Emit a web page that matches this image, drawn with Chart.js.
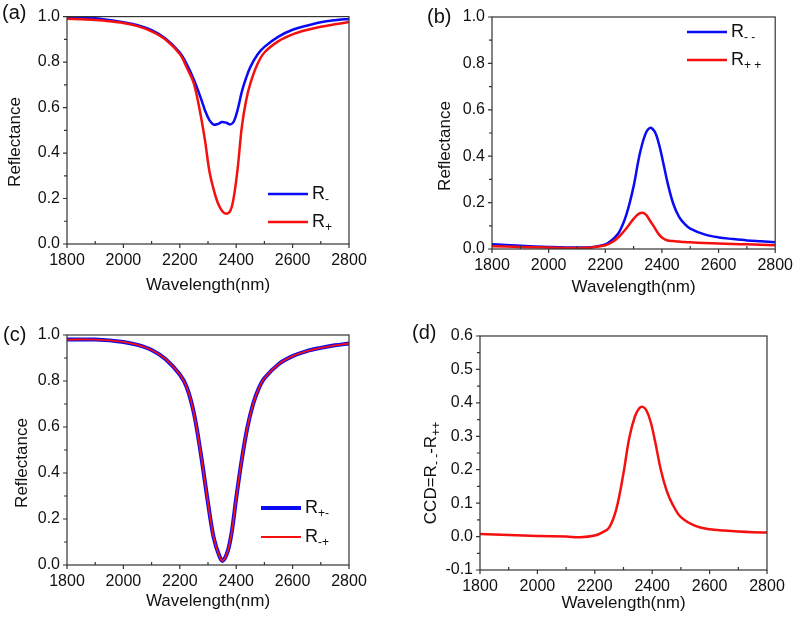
<!DOCTYPE html>
<html lang="en">
<head>
<meta charset="UTF-8">
<title>Reflectance spectra</title>
<script src="https://cdn.jsdelivr.net/npm/chart.js"></script>
<style>
    body { margin: 0; background: #fff; }
    #wrap { position: relative; width: 800px; height: 617px; }
    canvas { position: absolute; }
    #pa { left: 0; top: 0; }
    #pb { left: 400px; top: 0; }
    #pc { left: 0; top: 300px; }
    #pd { left: 400px; top: 300px; }
</style>
</head>
<body>
<div id="wrap">
    <canvas id="pa" width="400" height="300"></canvas>
    <canvas id="pb" width="400" height="300"></canvas>
    <canvas id="pc" width="400" height="317"></canvas>
    <canvas id="pd" width="400" height="317"></canvas>
</div>
<script>
// (a) R- and R+
const wavelengthA = [1800, 1850, 1900, 1950, 2000, 2050, 2100, 2150, 2200, 2225, 2250, 2275, 2290, 2305, 2320, 2335, 2350, 2365, 2380, 2392, 2405, 2420, 2435, 2450, 2475, 2500, 2550, 2600, 2650, 2700, 2750, 2800];
const rMinusA = [0.996, 0.995, 0.993, 0.985, 0.975, 0.962, 0.940, 0.903, 0.842, 0.790, 0.722, 0.640, 0.585, 0.545, 0.525, 0.528, 0.536, 0.533, 0.526, 0.540, 0.590, 0.670, 0.730, 0.778, 0.832, 0.867, 0.912, 0.942, 0.960, 0.975, 0.984, 0.990];
const rPlusA = [0.990, 0.988, 0.985, 0.980, 0.972, 0.958, 0.935, 0.898, 0.835, 0.775, 0.705, 0.560, 0.450, 0.320, 0.240, 0.180, 0.145, 0.133, 0.148, 0.210, 0.330, 0.515, 0.630, 0.705, 0.790, 0.842, 0.892, 0.922, 0.941, 0.955, 0.966, 0.976];

// (b) R-- and R++
const wavelengthB = [1800, 1900, 2000, 2100, 2150, 2200, 2225, 2250, 2275, 2300, 2320, 2340, 2358, 2375, 2390, 2405, 2420, 2440, 2460, 2480, 2500, 2550, 2600, 2650, 2700, 2750, 2800];
const rMinusMinusB = [0.020, 0.014, 0.009, 0.006, 0.008, 0.020, 0.040, 0.075, 0.150, 0.270, 0.400, 0.490, 0.522, 0.505, 0.450, 0.370, 0.285, 0.195, 0.140, 0.108, 0.088, 0.063, 0.050, 0.043, 0.037, 0.033, 0.029];
const rPlusPlusB = [0.012, 0.009, 0.006, 0.004, 0.006, 0.016, 0.030, 0.055, 0.090, 0.130, 0.153, 0.152, 0.122, 0.090, 0.062, 0.045, 0.037, 0.034, 0.032, 0.030, 0.029, 0.026, 0.024, 0.022, 0.020, 0.018, 0.016];

// (c) R+- and R-+
const wavelengthC = [1800, 1900, 2000, 2050, 2100, 2150, 2200, 2225, 2250, 2275, 2300, 2320, 2340, 2352, 2370, 2385, 2400, 2420, 2440, 2460, 2480, 2500, 2550, 2600, 2650, 2700, 2750, 2800];
const rPlusMinusC = [0.980, 0.980, 0.970, 0.957, 0.935, 0.895, 0.828, 0.772, 0.660, 0.480, 0.270, 0.120, 0.040, 0.018, 0.060, 0.150, 0.290, 0.460, 0.600, 0.700, 0.768, 0.812, 0.873, 0.908, 0.930, 0.944, 0.955, 0.963];
const rMinusPlusC = [0.980, 0.980, 0.970, 0.957, 0.935, 0.895, 0.828, 0.772, 0.660, 0.480, 0.270, 0.120, 0.040, 0.018, 0.060, 0.150, 0.290, 0.460, 0.600, 0.700, 0.768, 0.812, 0.873, 0.908, 0.930, 0.944, 0.955, 0.963];

// (d) CCD = R-- - R++
const wavelengthD = [1800, 1900, 2000, 2100, 2150, 2200, 2225, 2250, 2275, 2300, 2320, 2340, 2355, 2367, 2380, 2395, 2410, 2430, 2450, 2470, 2500, 2550, 2600, 2650, 2700, 2750, 2800];
const ccdD = [0.008, 0.005, 0.002, 0.000, -0.002, 0.003, 0.012, 0.027, 0.082, 0.190, 0.295, 0.360, 0.384, 0.388, 0.377, 0.342, 0.285, 0.200, 0.138, 0.098, 0.058, 0.032, 0.022, 0.018, 0.015, 0.013, 0.012];

const xTicks = [1800, 2000, 2200, 2400, 2600, 2800];
const yTicksR = [0, 0.2, 0.4, 0.6, 0.8, 1.0];
const yTicksCcd = [-0.1, 0, 0.1, 0.2, 0.3, 0.4, 0.5, 0.6];

const BLUE = '#0a0af5';
const RED = '#f51010';
const INK = '#111';
const FONT = "'Liberation Sans', Arial, sans-serif";

Chart.defaults.font.family = FONT;

function points(xs, ys) {
    return xs.map((x, i) => ({ x: x, y: ys[i] }));
}

// text with subscripts, parts = [[text, isSub], ...]
function richWidth(ctx, parts, size) {
    let w = 0;
    parts.forEach(p => {
        ctx.font = (p[1] ? Math.round(size * 0.68) : size) + 'px ' + FONT;
        w += ctx.measureText(p[0]).width;
    });
    return w;
}

function drawRich(ctx, parts, x, y, size) {
    parts.forEach(p => {
        ctx.font = (p[1] ? Math.round(size * 0.68) : size) + 'px ' + FONT;
        ctx.fillText(p[0], x, p[1] ? y + size * 0.32 : y);
        x += ctx.measureText(p[0]).width;
    });
}

const framePlugin = {
    id: 'frame',
    afterDatasetsDraw(chart, args, opts) {
        const { ctx, chartArea: a, scales: { x, y } } = chart;
        ctx.save();
        ctx.strokeStyle = '#333';
        ctx.lineWidth = 1.2;
        ctx.strokeRect(a.left, a.top, a.right - a.left, a.bottom - a.top);

        ctx.beginPath();
        for (let v = 1800; v <= 2800; v += 100) {
            const px = x.getPixelForValue(v);
            ctx.moveTo(px, a.bottom);
            ctx.lineTo(px, v % 200 === 0 ? a.bottom + 4 : a.bottom - 3);
        }
        const n = Math.round((y.max - y.min) / opts.yMinor);
        for (let i = 0; i <= n; i++) {
            const py = y.getPixelForValue(y.min + i * opts.yMinor);
            ctx.moveTo(a.left, py);
            ctx.lineTo(a.left - (i % 2 === 0 ? 4 : 3), py);
        }
        ctx.stroke();

        ctx.fillStyle = INK;
        ctx.textBaseline = 'middle';

        // panel letter
        ctx.font = '20px ' + FONT;
        ctx.textAlign = 'left';
        ctx.fillText(opts.label, opts.labelPos[0], opts.labelPos[1]);

        // y axis title
        ctx.save();
        ctx.translate(opts.yTitlePos[0], opts.yTitlePos[1]);
        ctx.rotate(-Math.PI / 2);
        const tw = richWidth(ctx, opts.yTitle, 17);
        drawRich(ctx, opts.yTitle, -tw / 2, 0, 17);
        ctx.restore();

        // legend
        (opts.legend || []).forEach(item => {
            ctx.strokeStyle = item.color;
            ctx.lineWidth = item.width;
            ctx.beginPath();
            ctx.moveTo(item.x, item.y);
            ctx.lineTo(item.x + 40, item.y);
            ctx.stroke();
            drawRich(ctx, item.text, item.x + 44, item.y, 18);
        });
        ctx.restore();
    }
};

function makePanel(id, p) {
    return new Chart(document.getElementById(id), {
        type: 'line',
        data: { datasets: p.datasets },
        options: {
            responsive: false,
            animation: false,
            events: [],
            layout: { padding: { left: 0, top: p.box.top, right: p.box.right, bottom: 0 } },
            elements: {
                point: { radius: 0 },
                line: { tension: 0.35, borderJoinStyle: 'round' }
            },
            plugins: {
                legend: { display: false },
                tooltip: { enabled: false },
                frame: p.frame
            },
            scales: {
                x: {
                    type: 'linear',
                    min: 1800,
                    max: 2800,
                    grid: { display: false, drawTicks: false },
                    border: { display: false },
                    afterBuildTicks: s => { s.ticks = xTicks.map(v => ({ value: v })); },
                    afterFit: s => { s.height = p.box.xHeight; },
                    ticks: { padding: 7, color: INK, font: { size: 16 }, callback: v => String(v) },
                    title: {
                        display: true,
                        text: 'Wavelength(nm)',
                        color: INK,
                        font: { size: 17 },
                        padding: { top: 0, bottom: p.xTitlePad }
                    }
                },
                y: {
                    type: 'linear',
                    min: p.yTicks[0],
                    max: p.yTicks[p.yTicks.length - 1],
                    grid: { display: false, drawTicks: false },
                    border: { display: false },
                    afterBuildTicks: s => { s.ticks = p.yTicks.map(v => ({ value: v })); },
                    afterFit: s => { s.width = p.box.yWidth; },
                    ticks: { padding: 7, color: INK, font: { size: 16 }, callback: v => v.toFixed(1) }
                }
            }
        },
        plugins: [framePlugin]
    });
}

makePanel('pa', {
    box: { top: 14, right: 51, yWidth: 67, xHeight: 56 },
    xTitlePad: 4,
    yTicks: yTicksR,
    datasets: [
        { label: 'R-', data: points(wavelengthA, rMinusA), borderColor: BLUE, borderWidth: 2.5, order: 2 },
        { label: 'R+', data: points(wavelengthA, rPlusA), borderColor: RED, borderWidth: 2.5, order: 1 }
    ],
    frame: {
        yMinor: 0.1,
        label: '(a)', labelPos: [2, 13],
        yTitle: [['Reflectance', false]], yTitlePos: [15, 142],
        legend: [
            { color: BLUE, width: 2.5, x: 268, y: 194, text: [['R', false], ['-', true]] },
            { color: RED, width: 2.5, x: 268, y: 222, text: [['R', false], ['+', true]] }
        ]
    }
});

makePanel('pb', {
    box: { top: 17, right: 23, yWidth: 92, xHeight: 51 },
    xTitlePad: 2,
    yTicks: yTicksR,
    datasets: [
        { label: 'R--', data: points(wavelengthB, rMinusMinusB), borderColor: BLUE, borderWidth: 2.5, order: 2 },
        { label: 'R++', data: points(wavelengthB, rPlusPlusB), borderColor: RED, borderWidth: 2.5, order: 1 }
    ],
    frame: {
        yMinor: 0.1,
        label: '(b)', labelPos: [27, 17],
        yTitle: [['Reflectance', false]], yTitlePos: [45, 146],
        legend: [
            { color: BLUE, width: 2.5, x: 287, y: 32, text: [['R', false], ['- -', true]] },
            { color: RED, width: 2.5, x: 287, y: 60, text: [['R', false], ['+ +', true]] }
        ]
    }
});

makePanel('pc', {
    box: { top: 35, right: 51, yWidth: 67, xHeight: 52 },
    xTitlePad: 5,
    yTicks: yTicksR,
    datasets: [
        { label: 'R+-', data: points(wavelengthC, rPlusMinusC), borderColor: BLUE, borderWidth: 4, order: 2 },
        { label: 'R-+', data: points(wavelengthC, rMinusPlusC), borderColor: RED, borderWidth: 1.8, order: 1 }
    ],
    frame: {
        yMinor: 0.1,
        label: '(c)', labelPos: [3, 35],
        yTitle: [['Reflectance', false]], yTitlePos: [22, 163],
        legend: [
            { color: BLUE, width: 4, x: 261, y: 208, text: [['R', false], ['+-', true]] },
            { color: RED, width: 1.8, x: 261, y: 237, text: [['R', false], ['-+', true]] }
        ]
    }
});

makePanel('pd', {
    box: { top: 36, right: 33, yWidth: 80, xHeight: 47 },
    xTitlePad: 3,
    yTicks: yTicksCcd,
    datasets: [
        { label: 'CCD', data: points(wavelengthD, ccdD), borderColor: RED, borderWidth: 2.5 }
    ],
    frame: {
        yMinor: 0.05,
        label: '(d)', labelPos: [12, 33],
        yTitle: [['CCD=R', false], ['- -', true], ['-R', false], ['++', true]], yTitlePos: [31, 173],
        legend: []
    }
});
</script>
</body>
</html>
